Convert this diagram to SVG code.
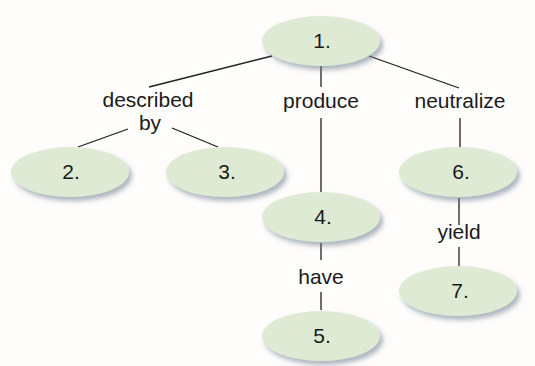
<svg xmlns="http://www.w3.org/2000/svg" width="535" height="366" viewBox="0 0 535 366">
<defs>
<filter id="sh" x="-20%" y="-30%" width="150%" height="180%">
<feDropShadow dx="3" dy="4" stdDeviation="2.5" flood-color="#6a7a8a" flood-opacity="0.55"/>
</filter>
<style>
.n{fill:#deead3;filter:url(#sh)}
.t{font-family:"Liberation Sans",Arial,sans-serif;font-size:21px;fill:#1a1a1a;text-anchor:middle}
.c line{stroke:#231f20;stroke-width:1.3}
</style>
</defs>
<rect width="535" height="366" fill="#fefdfc"/>
<g class="c" id="connectors">
<line x1="272" y1="56" x2="149" y2="87"/>
<line x1="321" y1="66" x2="321" y2="87"/>
<line x1="369" y1="56" x2="459" y2="88"/>
<line x1="128" y1="129" x2="78" y2="147"/>
<line x1="172" y1="128" x2="218" y2="147"/>
<line x1="321" y1="118" x2="321" y2="192"/>
<line x1="460" y1="118" x2="460" y2="147"/>
<line x1="321" y1="243" x2="321" y2="260"/>
<line x1="321" y1="292" x2="321" y2="310"/>
<line x1="459" y1="198" x2="459" y2="225"/>
<line x1="459" y1="247" x2="459" y2="266"/>
</g>
<g id="labels">
<text class="t" x="148" y="107">described</text>
<text class="t" x="150" y="130">by</text>
<text class="t" x="321" y="108">produce</text>
<text class="t" x="460" y="108">neutralize</text>
<text class="t" x="321" y="284">have</text>
<text class="t" x="459" y="239">yield</text>
</g>
<g id="node1"><ellipse class="n" cx="321" cy="41" rx="59" ry="25"/><text class="t" x="322" y="48">1.</text></g>
<g id="node2"><ellipse class="n" cx="70" cy="172" rx="59" ry="25"/><text class="t" x="71" y="179">2.</text></g>
<g id="node3"><ellipse class="n" cx="225" cy="172" rx="59" ry="25"/><text class="t" x="227" y="179">3.</text></g>
<g id="node4"><ellipse class="n" cx="321" cy="217" rx="59" ry="25"/><text class="t" x="323" y="224">4.</text></g>
<g id="node5"><ellipse class="n" cx="321" cy="336" rx="59" ry="25"/><text class="t" x="322" y="343">5.</text></g>
<g id="node6"><ellipse class="n" cx="458" cy="172" rx="59" ry="25"/><text class="t" x="461" y="179">6.</text></g>
<g id="node7"><ellipse class="n" cx="458" cy="291" rx="59" ry="25"/><text class="t" x="460" y="298">7.</text></g>
</svg>
